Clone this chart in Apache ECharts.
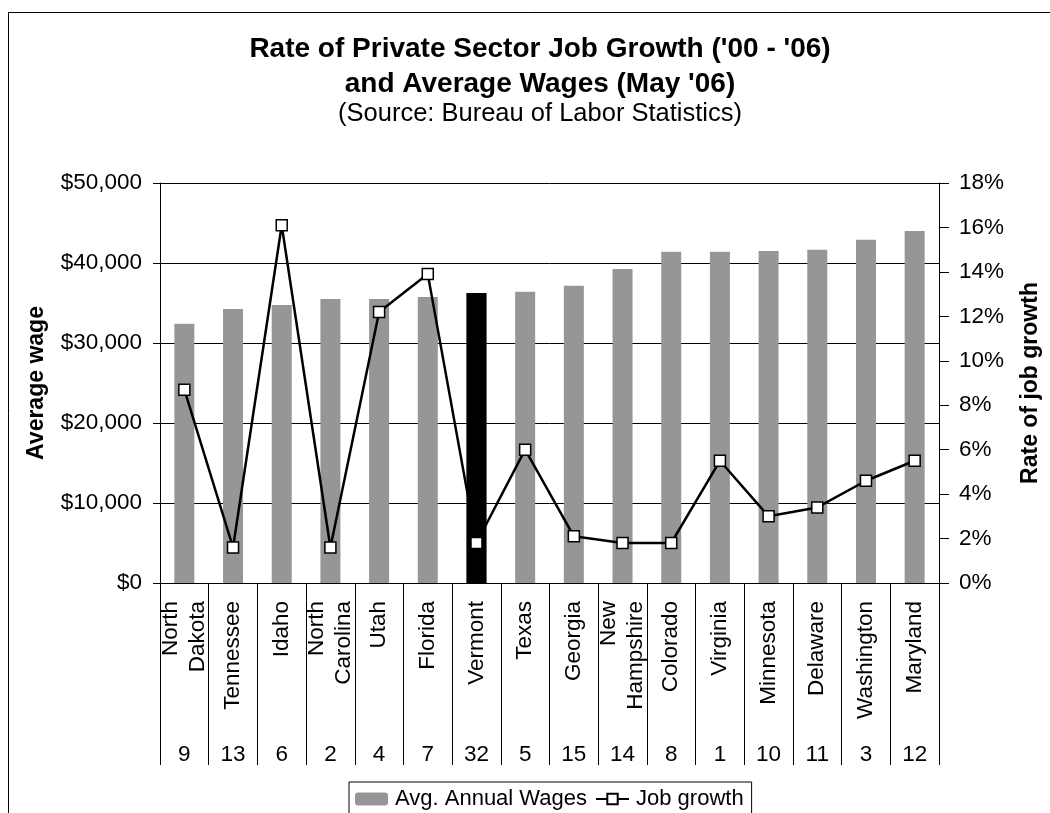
<!DOCTYPE html>
<html>
<head>
<meta charset="UTF-8">
<style>
	html, body { margin: 0; padding: 0; background: #fff; }
	#main { width: 1050px; height: 813px; }
</style>
</head>
<body>
	<div id="main"></div>
	<script src="https://cdn.jsdelivr.net/npm/echarts@6/dist/echarts.min.js"></script>
<script>
	// states, ordered by average wage
	var states = ['North\nDakota', 'Tennessee', 'Idaho', 'North\nCarolina', 'Utah', 'Florida', 'Vermont', 'Texas',
		'Georgia', 'New\nHampshire', 'Colorado', 'Virginia', 'Minnesota', 'Delaware', 'Washington', 'Maryland'];
	// rank shown under each state
	var ranks = ['9', '13', '6', '2', '4', '7', '32', '5', '15', '14', '8', '1', '10', '11', '3', '12'];
	// average annual wages, May '06
	var wages = [32400, 34250, 34750, 35500, 35500, 35750, 36250, 36400, 37150, 39250, 41400, 41400, 41500, 41650, 42900, 44000];
	// rate of private sector job growth '00 - '06 (%)
	var growth = [8.7, 1.6, 16.1, 1.6, 12.2, 13.9, 1.8, 6.0, 2.1, 1.8, 1.8, 5.5, 3.0, 3.4, 4.6, 5.5];

	var font = 'Liberation Sans, Arial, sans-serif';
	var highlight = 'Vermont';

	// the highlighted state sits on top of the line, so it gets its own series
	var hlBar = wages.map(function (v, i) { return states[i] == highlight ? v : '-'; });
	var hlPoint = growth.map(function (v, i) { return states[i] == highlight ? v : '-'; });

	var myChart = echarts.init(document.getElementById('main'));
	myChart.setOption({
		animation: false,
		textStyle: { fontFamily: font },
		title: [{
			text: "Rate of Private Sector Job Growth ('00 - '06)\nand Average Wages (May '06)",
			left: 535,
			textAlign: 'center',
			top: 27,
			textStyle: { fontSize: 28, fontWeight: 'bold', color: '#000', lineHeight: 35, fontFamily: font }
		}, {
			text: '(Source: Bureau of Labor Statistics)',
			left: 535,
			textAlign: 'center',
			top: 96,
			textStyle: { fontSize: 25.5, fontWeight: 'normal', color: '#000', fontFamily: font }
		}],
		graphic: [{
			type: 'rect',
			shape: { x: 8.5, y: 12.5, width: 1100, height: 900 },
			style: { fill: null, stroke: '#000', lineWidth: 1 },
			silent: true
		}],
		legend: {
			data: ['Avg. Annual Wages', 'Job growth'],
			left: 349,
			top: 782,
			padding: [6, 8, 10, 6],
			itemGap: 8,
			itemWidth: 33,
			itemHeight: 13,
			borderColor: '#000',
			borderWidth: 1,
			borderRadius: 0,
			textStyle: { fontSize: 22, color: '#000', fontFamily: font, padding: [0, 0, 0, 2] }
		},
		grid: {
			left: 160,
			right: 106,
			top: 183,
			bottom: 230
		},
		xAxis: [{
			type: 'category',
			data: states,
			axisLine: { show: true, lineStyle: { color: '#000', width: 1 } },
			axisTick: { show: true, length: 182, lineStyle: { color: '#000' } },
			axisLabel: {
				interval: 0,
				rotate: 90,
				margin: 18,
				fontSize: 22.5,
				lineHeight: 27,
				color: '#000',
				fontFamily: font
			}
		}, {
			type: 'category',
			data: ranks,
			position: 'bottom',
			offset: 152,
			axisLine: { show: false },
			axisTick: { show: false },
			axisLabel: {
				interval: 0,
				margin: 8,
				fontSize: 22.5,
				color: '#000',
				fontFamily: font
			}
		}],
		yAxis: [{
			type: 'value',
			name: 'Average wage',
			nameLocation: 'middle',
			nameGap: 112,
			nameTextStyle: { fontSize: 23, fontWeight: 'bold', color: '#000', fontFamily: font },
			min: 0,
			max: 50000,
			interval: 10000,
			axisLine: { show: true, lineStyle: { color: '#000' } },
			axisTick: { show: true, length: 7, lineStyle: { color: '#000' } },
			splitLine: { show: true, lineStyle: { color: '#000', width: 1 } },
			axisLabel: {
				margin: 18,
				fontSize: 22.5,
				color: '#000',
				fontFamily: font,
				formatter: function (v) {
					return '$' + v.toLocaleString('en-US');
				}
			}
		}, {
			type: 'value',
			name: 'Rate of job growth',
			nameLocation: 'middle',
			nameGap: 80,
			nameRotate: 90,
			nameTextStyle: { fontSize: 23, fontWeight: 'bold', color: '#000', fontFamily: font },
			min: 0,
			max: 18,
			interval: 2,
			position: 'right',
			axisLine: { show: true, lineStyle: { color: '#000' } },
			axisTick: { show: true, length: 10, lineStyle: { color: '#000' } },
			splitLine: { show: false },
			axisLabel: {
				margin: 20,
				fontSize: 22.5,
				color: '#000',
				fontFamily: font,
				formatter: '{value}%'
			}
		}],
		series: [{
			name: 'Avg. Annual Wages',
			type: 'bar',
			data: wages,
			barWidth: 20,
			z: 1,
			itemStyle: { color: '#969696' }
		}, {
			name: 'Job growth',
			type: 'line',
			yAxisIndex: 1,
			data: growth,
			symbol: 'rect',
			symbolSize: 11,
			z: 3,
			lineStyle: { color: '#000', width: 2.5 },
			itemStyle: { color: '#fff', borderColor: '#000', borderWidth: 1.5 }
		}, {
			name: highlight,
			type: 'bar',
			data: hlBar,
			barWidth: 20,
			barGap: '-100%',
			z: 4,
			itemStyle: { color: '#000' }
		}, {
			name: highlight + ' growth',
			type: 'scatter',
			yAxisIndex: 1,
			data: hlPoint,
			symbol: 'rect',
			symbolSize: 11,
			z: 5,
			itemStyle: { color: '#fff', opacity: 1, borderColor: '#000', borderWidth: 1.5 }
		}]
	});
</script>
</body>
</html>
